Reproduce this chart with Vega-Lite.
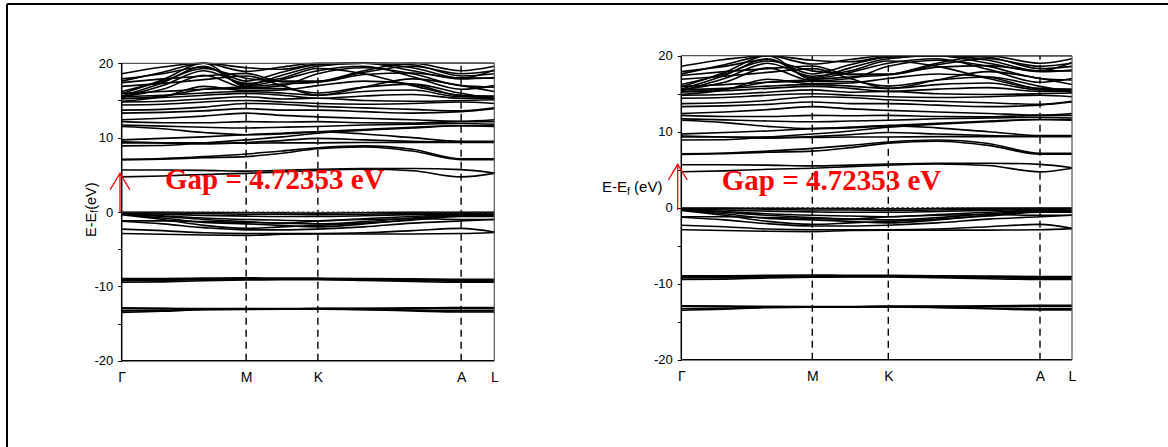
{
"$schema":"https://vega.github.io/schema/vega-lite/v6.json",
"width":1161,"height":443,
"autosize":{"type":"none"},
"padding":{"left":7,"top":4,"right":0,"bottom":0},
"background":"white",
"config":{"view":{"stroke":null}},
"datasets":{
"bands":[
{"b":"v1","k":0,"e":-0.05},{"b":"v1","k":0.11,"e":-0.05},{"b":"v1","k":0.22,"e":-0.08},{"b":"v1","k":0.334,"e":-0.1},{"b":"v1","k":0.43,"e":-0.12},{"b":"v1","k":0.5265,"e":-0.15},{"b":"v1","k":0.65,"e":-0.1},{"b":"v1","k":0.78,"e":-0.05},{"b":"v1","k":0.911,"e":-0.05},{"b":"v1","k":1,"e":-0.05},
{"b":"v2","k":0,"e":-0.1},{"b":"v2","k":0.11,"e":-0.12},{"b":"v2","k":0.22,"e":-0.2},{"b":"v2","k":0.334,"e":-0.3},{"b":"v2","k":0.43,"e":-0.3},{"b":"v2","k":0.5265,"e":-0.35},{"b":"v2","k":0.65,"e":-0.3},{"b":"v2","k":0.78,"e":-0.2},{"b":"v2","k":0.911,"e":-0.12},{"b":"v2","k":1,"e":-0.12},
{"b":"v3","k":0,"e":-0.15},{"b":"v3","k":0.11,"e":-0.3},{"b":"v3","k":0.22,"e":-0.45},{"b":"v3","k":0.334,"e":-0.55},{"b":"v3","k":0.43,"e":-0.6},{"b":"v3","k":0.5265,"e":-0.6},{"b":"v3","k":0.65,"e":-0.5},{"b":"v3","k":0.78,"e":-0.35},{"b":"v3","k":0.911,"e":-0.25},{"b":"v3","k":1,"e":-0.3},
{"b":"v4","k":0,"e":-0.2},{"b":"v4","k":0.11,"e":-0.5},{"b":"v4","k":0.22,"e":-0.8},{"b":"v4","k":0.334,"e":-1.0},{"b":"v4","k":0.43,"e":-1.1},{"b":"v4","k":0.5265,"e":-1.2},{"b":"v4","k":0.65,"e":-0.9},{"b":"v4","k":0.78,"e":-0.6},{"b":"v4","k":0.911,"e":-0.35},{"b":"v4","k":1,"e":-0.4},
{"b":"v5","k":0,"e":-0.25},{"b":"v5","k":0.11,"e":-0.6},{"b":"v5","k":0.22,"e":-1.0},{"b":"v5","k":0.334,"e":-1.3},{"b":"v5","k":0.43,"e":-1.5},{"b":"v5","k":0.5265,"e":-1.6},{"b":"v5","k":0.65,"e":-1.3},{"b":"v5","k":0.78,"e":-0.8},{"b":"v5","k":0.911,"e":-0.45},{"b":"v5","k":1,"e":-0.45},
{"b":"v6","k":0,"e":-0.3},{"b":"v6","k":0.11,"e":-0.8},{"b":"v6","k":0.22,"e":-1.4},{"b":"v6","k":0.334,"e":-1.6},{"b":"v6","k":0.43,"e":-1.8},{"b":"v6","k":0.5265,"e":-2.0},{"b":"v6","k":0.65,"e":-1.6},{"b":"v6","k":0.78,"e":-1.0},{"b":"v6","k":0.911,"e":-0.5},{"b":"v6","k":1,"e":-0.5},
{"b":"v7","k":0,"e":-0.35},{"b":"v7","k":0.11,"e":-1.0},{"b":"v7","k":0.22,"e":-1.8},{"b":"v7","k":0.334,"e":-2.2},{"b":"v7","k":0.43,"e":-2.0},{"b":"v7","k":0.5265,"e":-1.8},{"b":"v7","k":0.65,"e":-1.5},{"b":"v7","k":0.78,"e":-1.1},{"b":"v7","k":0.911,"e":-0.6},{"b":"v7","k":1,"e":-0.6},
{"b":"v8","k":0,"e":-1.2},{"b":"v8","k":0.11,"e":-1.2},{"b":"v8","k":0.22,"e":-1.3},{"b":"v8","k":0.334,"e":-1.4},{"b":"v8","k":0.43,"e":-1.5},{"b":"v8","k":0.5265,"e":-1.2},{"b":"v8","k":0.65,"e":-1.0},{"b":"v8","k":0.78,"e":-0.9},{"b":"v8","k":0.911,"e":-1.0},{"b":"v8","k":1,"e":-1.0},
{"b":"v9","k":0,"e":-1.25},{"b":"v9","k":0.11,"e":-1.6},{"b":"v9","k":0.22,"e":-2.1},{"b":"v9","k":0.334,"e":-2.4},{"b":"v9","k":0.43,"e":-2.4},{"b":"v9","k":0.5265,"e":-2.3},{"b":"v9","k":0.65,"e":-2.0},{"b":"v9","k":0.78,"e":-1.5},{"b":"v9","k":0.911,"e":-1.2},{"b":"v9","k":1,"e":-1.0},
{"b":"v10","k":0,"e":-2.3},{"b":"v10","k":0.11,"e":-2.5},{"b":"v10","k":0.22,"e":-2.8},{"b":"v10","k":0.334,"e":-2.9},{"b":"v10","k":0.43,"e":-2.9},{"b":"v10","k":0.5265,"e":-2.9},{"b":"v10","k":0.65,"e":-2.8},{"b":"v10","k":0.78,"e":-2.5},{"b":"v10","k":0.911,"e":-2.2},{"b":"v10","k":1,"e":-2.7},
{"b":"v11","k":0,"e":-2.9},{"b":"v11","k":0.11,"e":-3.0},{"b":"v11","k":0.22,"e":-3.1},{"b":"v11","k":0.334,"e":-3.15},{"b":"v11","k":0.43,"e":-3.0},{"b":"v11","k":0.5265,"e":-2.95},{"b":"v11","k":0.65,"e":-2.95},{"b":"v11","k":0.78,"e":-2.95},{"b":"v11","k":0.911,"e":-2.9},{"b":"v11","k":1,"e":-2.75},
{"b":"s1","k":0,"e":-8.95},{"b":"s1","k":0.11,"e":-8.95},{"b":"s1","k":0.22,"e":-8.9},{"b":"s1","k":0.334,"e":-8.85},{"b":"s1","k":0.43,"e":-8.9},{"b":"s1","k":0.5265,"e":-8.9},{"b":"s1","k":0.65,"e":-8.95},{"b":"s1","k":0.78,"e":-9.0},{"b":"s1","k":0.911,"e":-9.05},{"b":"s1","k":1,"e":-9.05},
{"b":"s2","k":0,"e":-9.1},{"b":"s2","k":0.11,"e":-9.1},{"b":"s2","k":0.22,"e":-9.05},{"b":"s2","k":0.334,"e":-9.0},{"b":"s2","k":0.43,"e":-9.0},{"b":"s2","k":0.5265,"e":-9.0},{"b":"s2","k":0.65,"e":-9.05},{"b":"s2","k":0.78,"e":-9.1},{"b":"s2","k":0.911,"e":-9.2},{"b":"s2","k":1,"e":-9.2},
{"b":"s3","k":0,"e":-9.25},{"b":"s3","k":0.11,"e":-9.2},{"b":"s3","k":0.22,"e":-9.1},{"b":"s3","k":0.334,"e":-9.05},{"b":"s3","k":0.43,"e":-9.05},{"b":"s3","k":0.5265,"e":-9.05},{"b":"s3","k":0.65,"e":-9.1},{"b":"s3","k":0.78,"e":-9.2},{"b":"s3","k":0.911,"e":-9.3},{"b":"s3","k":1,"e":-9.3},
{"b":"s4","k":0,"e":-9.45},{"b":"s4","k":0.11,"e":-9.4},{"b":"s4","k":0.22,"e":-9.25},{"b":"s4","k":0.334,"e":-9.15},{"b":"s4","k":0.43,"e":-9.1},{"b":"s4","k":0.5265,"e":-9.1},{"b":"s4","k":0.65,"e":-9.2},{"b":"s4","k":0.78,"e":-9.35},{"b":"s4","k":0.911,"e":-9.45},{"b":"s4","k":1,"e":-9.45},
{"b":"d1","k":0,"e":-12.9},{"b":"d1","k":0.11,"e":-12.95},{"b":"d1","k":0.22,"e":-13.0},{"b":"d1","k":0.334,"e":-13.0},{"b":"d1","k":0.43,"e":-13.0},{"b":"d1","k":0.5265,"e":-12.95},{"b":"d1","k":0.65,"e":-12.95},{"b":"d1","k":0.78,"e":-12.9},{"b":"d1","k":0.911,"e":-12.85},{"b":"d1","k":1,"e":-12.85},
{"b":"d2","k":0,"e":-13.0},{"b":"d2","k":0.11,"e":-13.0},{"b":"d2","k":0.22,"e":-13.02},{"b":"d2","k":0.334,"e":-13.05},{"b":"d2","k":0.43,"e":-13.03},{"b":"d2","k":0.5265,"e":-13.0},{"b":"d2","k":0.65,"e":-13.0},{"b":"d2","k":0.78,"e":-13.0},{"b":"d2","k":0.911,"e":-13.0},{"b":"d2","k":1,"e":-13.0},
{"b":"d3","k":0,"e":-13.3},{"b":"d3","k":0.11,"e":-13.2},{"b":"d3","k":0.22,"e":-13.1},{"b":"d3","k":0.334,"e":-13.08},{"b":"d3","k":0.43,"e":-13.06},{"b":"d3","k":0.5265,"e":-13.05},{"b":"d3","k":0.65,"e":-13.1},{"b":"d3","k":0.78,"e":-13.2},{"b":"d3","k":0.911,"e":-13.3},{"b":"d3","k":1,"e":-13.3},
{"b":"d4","k":0,"e":-13.5},{"b":"d4","k":0.11,"e":-13.35},{"b":"d4","k":0.22,"e":-13.15},{"b":"d4","k":0.334,"e":-13.1},{"b":"d4","k":0.43,"e":-13.08},{"b":"d4","k":0.5265,"e":-13.07},{"b":"d4","k":0.65,"e":-13.15},{"b":"d4","k":0.78,"e":-13.3},{"b":"d4","k":0.911,"e":-13.45},{"b":"d4","k":1,"e":-13.45},
{"b":"c1","k":0,"e":4.72},{"b":"c1","k":0.11,"e":4.85},{"b":"c1","k":0.22,"e":5.05},{"b":"c1","k":0.334,"e":5.2},{"b":"c1","k":0.43,"e":5.4},{"b":"c1","k":0.5265,"e":5.6},{"b":"c1","k":0.65,"e":5.75},{"b":"c1","k":0.78,"e":5.55},{"b":"c1","k":0.911,"e":4.72},{"b":"c1","k":1,"e":5.2},
{"b":"c2","k":0,"e":5.65},{"b":"c2","k":0.11,"e":5.65},{"b":"c2","k":0.22,"e":5.6},{"b":"c2","k":0.334,"e":5.5},{"b":"c2","k":0.43,"e":5.6},{"b":"c2","k":0.5265,"e":5.75},{"b":"c2","k":0.65,"e":5.85},{"b":"c2","k":0.78,"e":5.85},{"b":"c2","k":0.911,"e":5.7},{"b":"c2","k":1,"e":5.25},
{"b":"c3","k":0,"e":7.0},{"b":"c3","k":0.11,"e":7.1},{"b":"c3","k":0.22,"e":7.3},{"b":"c3","k":0.334,"e":7.45},{"b":"c3","k":0.43,"e":7.9},{"b":"c3","k":0.5265,"e":8.5},{"b":"c3","k":0.65,"e":8.75},{"b":"c3","k":0.78,"e":8.2},{"b":"c3","k":0.911,"e":7.05},{"b":"c3","k":1,"e":7.05},
{"b":"c4","k":0,"e":7.1},{"b":"c4","k":0.11,"e":7.2},{"b":"c4","k":0.22,"e":7.45},{"b":"c4","k":0.334,"e":7.8},{"b":"c4","k":0.43,"e":8.2},{"b":"c4","k":0.5265,"e":8.65},{"b":"c4","k":0.65,"e":8.9},{"b":"c4","k":0.78,"e":8.45},{"b":"c4","k":0.911,"e":7.15},{"b":"c4","k":1,"e":7.15},
{"b":"c5","k":0,"e":9.3},{"b":"c5","k":0.11,"e":9.3},{"b":"c5","k":0.22,"e":9.3},{"b":"c5","k":0.334,"e":9.25},{"b":"c5","k":0.43,"e":9.3},{"b":"c5","k":0.5265,"e":9.3},{"b":"c5","k":0.65,"e":9.35},{"b":"c5","k":0.78,"e":9.35},{"b":"c5","k":0.911,"e":9.35},{"b":"c5","k":1,"e":9.35},
{"b":"c6","k":0,"e":9.45},{"b":"c6","k":0.11,"e":9.3},{"b":"c6","k":0.22,"e":9.15},{"b":"c6","k":0.334,"e":9.35},{"b":"c6","k":0.43,"e":9.6},{"b":"c6","k":0.5265,"e":9.9},{"b":"c6","k":0.65,"e":9.7},{"b":"c6","k":0.78,"e":9.5},{"b":"c6","k":0.911,"e":9.4},{"b":"c6","k":1,"e":9.45},
{"b":"c7","k":0,"e":9.7},{"b":"c7","k":0.11,"e":9.9},{"b":"c7","k":0.22,"e":10.1},{"b":"c7","k":0.334,"e":10.4},{"b":"c7","k":0.43,"e":10.6},{"b":"c7","k":0.5265,"e":10.8},{"b":"c7","k":0.65,"e":10.5},{"b":"c7","k":0.78,"e":10.0},{"b":"c7","k":0.911,"e":9.5},{"b":"c7","k":1,"e":9.5},
{"b":"c8","k":0,"e":8.9},{"b":"c8","k":0.11,"e":8.95},{"b":"c8","k":0.22,"e":9.3},{"b":"c8","k":0.334,"e":9.7},{"b":"c8","k":0.43,"e":10.1},{"b":"c8","k":0.5265,"e":10.6},{"b":"c8","k":0.65,"e":11.0},{"b":"c8","k":0.78,"e":11.3},{"b":"c8","k":0.911,"e":11.6},{"b":"c8","k":1,"e":11.5},
{"b":"c9","k":0,"e":11.5},{"b":"c9","k":0.11,"e":11.2},{"b":"c9","k":0.22,"e":10.7},{"b":"c9","k":0.334,"e":10.4},{"b":"c9","k":0.43,"e":10.5},{"b":"c9","k":0.5265,"e":10.8},{"b":"c9","k":0.65,"e":11.1},{"b":"c9","k":0.78,"e":11.4},{"b":"c9","k":0.911,"e":11.6},{"b":"c9","k":1,"e":11.6},
{"b":"c10","k":0,"e":11.7},{"b":"c10","k":0.11,"e":11.55},{"b":"c10","k":0.22,"e":11.4},{"b":"c10","k":0.334,"e":11.3},{"b":"c10","k":0.43,"e":11.4},{"b":"c10","k":0.5265,"e":11.5},{"b":"c10","k":0.65,"e":11.7},{"b":"c10","k":0.78,"e":11.8},{"b":"c10","k":0.911,"e":11.9},{"b":"c10","k":1,"e":11.8},
{"b":"c11","k":0,"e":12.15},{"b":"c11","k":0.11,"e":12.0},{"b":"c11","k":0.22,"e":12.0},{"b":"c11","k":0.334,"e":12.15},{"b":"c11","k":0.43,"e":12.1},{"b":"c11","k":0.5265,"e":12.15},{"b":"c11","k":0.65,"e":12.0},{"b":"c11","k":0.78,"e":11.95},{"b":"c11","k":0.911,"e":12.15},{"b":"c11","k":1,"e":12.15},
{"b":"c12","k":0,"e":12.4},{"b":"c12","k":0.11,"e":12.6},{"b":"c12","k":0.22,"e":12.9},{"b":"c12","k":0.334,"e":13.3},{"b":"c12","k":0.43,"e":13.0},{"b":"c12","k":0.5265,"e":12.8},{"b":"c12","k":0.65,"e":12.6},{"b":"c12","k":0.78,"e":12.4},{"b":"c12","k":0.911,"e":12.2},{"b":"c12","k":1,"e":12.4},
{"b":"c13","k":0,"e":13.3},{"b":"c13","k":0.11,"e":13.4},{"b":"c13","k":0.22,"e":13.6},{"b":"c13","k":0.334,"e":13.9},{"b":"c13","k":0.43,"e":13.7},{"b":"c13","k":0.5265,"e":13.7},{"b":"c13","k":0.65,"e":13.5},{"b":"c13","k":0.78,"e":13.3},{"b":"c13","k":0.911,"e":13.5},{"b":"c13","k":1,"e":13.9},
{"b":"c14","k":0,"e":13.7},{"b":"c14","k":0.11,"e":13.8},{"b":"c14","k":0.22,"e":14.1},{"b":"c14","k":0.334,"e":14.6},{"b":"c14","k":0.43,"e":14.5},{"b":"c14","k":0.5265,"e":14.2},{"b":"c14","k":0.65,"e":14.0},{"b":"c14","k":0.78,"e":13.8},{"b":"c14","k":0.911,"e":13.6},{"b":"c14","k":1,"e":14.0},
{"b":"c15","k":0,"e":14.4},{"b":"c15","k":0.11,"e":14.5},{"b":"c15","k":0.22,"e":14.8},{"b":"c15","k":0.334,"e":15.0},{"b":"c15","k":0.43,"e":14.8},{"b":"c15","k":0.5265,"e":14.6},{"b":"c15","k":0.65,"e":14.5},{"b":"c15","k":0.78,"e":14.6},{"b":"c15","k":0.911,"e":14.8},{"b":"c15","k":1,"e":14.6},
{"b":"c16","k":0,"e":14.8},{"b":"c16","k":0.11,"e":14.9},{"b":"c16","k":0.22,"e":15.2},{"b":"c16","k":0.334,"e":15.5},{"b":"c16","k":0.43,"e":15.2},{"b":"c16","k":0.5265,"e":15.3},{"b":"c16","k":0.65,"e":15.0},{"b":"c16","k":0.78,"e":14.9},{"b":"c16","k":0.911,"e":15.0},{"b":"c16","k":1,"e":15.1},
{"b":"c17","k":0,"e":15.3},{"b":"c17","k":0.11,"e":15.4},{"b":"c17","k":0.22,"e":15.7},{"b":"c17","k":0.334,"e":15.96},{"b":"c17","k":0.43,"e":15.7},{"b":"c17","k":0.5265,"e":15.3},{"b":"c17","k":0.65,"e":15.6},{"b":"c17","k":0.78,"e":15.8},{"b":"c17","k":0.911,"e":15.3},{"b":"c17","k":1,"e":15.3},
{"b":"c18","k":0,"e":15.5},{"b":"c18","k":0.11,"e":15.7},{"b":"c18","k":0.22,"e":16.0},{"b":"c18","k":0.334,"e":16.2},{"b":"c18","k":0.43,"e":16.0},{"b":"c18","k":0.5265,"e":15.7},{"b":"c18","k":0.65,"e":16.2},{"b":"c18","k":0.78,"e":16.4},{"b":"c18","k":0.911,"e":15.5},{"b":"c18","k":1,"e":15.5},
{"b":"c19","k":0,"e":15.96},{"b":"c19","k":0.11,"e":16.2},{"b":"c19","k":0.22,"e":16.5},{"b":"c19","k":0.334,"e":16.6},{"b":"c19","k":0.43,"e":16.6},{"b":"c19","k":0.5265,"e":16.0},{"b":"c19","k":0.65,"e":16.8},{"b":"c19","k":0.78,"e":17.2},{"b":"c19","k":0.911,"e":15.96},{"b":"c19","k":1,"e":15.2},
{"b":"c20","k":0,"e":15.4},{"b":"c20","k":0.11,"e":17.0},{"b":"c20","k":0.22,"e":19.0},{"b":"c20","k":0.334,"e":17.3},{"b":"c20","k":0.43,"e":18.0},{"b":"c20","k":0.5265,"e":19.3},{"b":"c20","k":0.65,"e":18.6},{"b":"c20","k":0.78,"e":17.0},{"b":"c20","k":0.911,"e":15.7},{"b":"c20","k":1,"e":15.6},
{"b":"c21","k":0,"e":16.9},{"b":"c21","k":0.11,"e":17.3},{"b":"c21","k":0.22,"e":17.8},{"b":"c21","k":0.334,"e":18.3},{"b":"c21","k":0.43,"e":17.0},{"b":"c21","k":0.5265,"e":15.7},{"b":"c21","k":0.65,"e":16.8},{"b":"c21","k":0.78,"e":17.9},{"b":"c21","k":0.911,"e":17.0},{"b":"c21","k":1,"e":16.2},
{"b":"c22","k":0,"e":17.4},{"b":"c22","k":0.11,"e":17.9},{"b":"c22","k":0.22,"e":18.3},{"b":"c22","k":0.334,"e":18.65},{"b":"c22","k":0.43,"e":17.5},{"b":"c22","k":0.5265,"e":17.5},{"b":"c22","k":0.65,"e":18.5},{"b":"c22","k":0.78,"e":18.7},{"b":"c22","k":0.911,"e":18.0},{"b":"c22","k":1,"e":18.0},
{"b":"c23","k":0,"e":17.9},{"b":"c23","k":0.11,"e":18.6},{"b":"c23","k":0.22,"e":19.5},{"b":"c23","k":0.334,"e":17.6},{"b":"c23","k":0.43,"e":18.8},{"b":"c23","k":0.5265,"e":19.8},{"b":"c23","k":0.65,"e":20.4},{"b":"c23","k":0.78,"e":19.4},{"b":"c23","k":0.911,"e":18.0},{"b":"c23","k":1,"e":19.1},
{"b":"c24","k":0,"e":15.6},{"b":"c24","k":0.11,"e":17.4},{"b":"c24","k":0.22,"e":19.6},{"b":"c24","k":0.334,"e":17.1},{"b":"c24","k":0.43,"e":18.4},{"b":"c24","k":0.5265,"e":19.6},{"b":"c24","k":0.65,"e":20.6},{"b":"c24","k":0.78,"e":19.8},{"b":"c24","k":0.911,"e":18.3},{"b":"c24","k":1,"e":18.6},
{"b":"c25","k":0,"e":15.9},{"b":"c25","k":0.11,"e":17.8},{"b":"c25","k":0.22,"e":20.4},{"b":"c25","k":0.334,"e":16.9},{"b":"c25","k":0.43,"e":17.2},{"b":"c25","k":0.5265,"e":17.5},{"b":"c25","k":0.65,"e":19.0},{"b":"c25","k":0.78,"e":20.3},{"b":"c25","k":0.911,"e":20.5},{"b":"c25","k":1,"e":20.5},
{"b":"c26","k":0,"e":15.2},{"b":"c26","k":0.11,"e":15.6},{"b":"c26","k":0.22,"e":16.5},{"b":"c26","k":0.334,"e":16.9},{"b":"c26","k":0.43,"e":17.8},{"b":"c26","k":0.5265,"e":19.0},{"b":"c26","k":0.65,"e":19.6},{"b":"c26","k":0.78,"e":18.2},{"b":"c26","k":0.911,"e":16.5},{"b":"c26","k":1,"e":17.0},
{"b":"c27","k":0,"e":18.6},{"b":"c27","k":0.11,"e":19.5},{"b":"c27","k":0.22,"e":21.0},{"b":"c27","k":0.334,"e":19.4},{"b":"c27","k":0.43,"e":19.2},{"b":"c27","k":0.5265,"e":19.9},{"b":"c27","k":0.65,"e":21.0},{"b":"c27","k":0.78,"e":20.6},{"b":"c27","k":0.911,"e":19.0},{"b":"c27","k":1,"e":19.6},
{"b":"c28","k":0,"e":16.2},{"b":"c28","k":0.11,"e":17.6},{"b":"c28","k":0.22,"e":19.3},{"b":"c28","k":0.334,"e":18.0},{"b":"c28","k":0.43,"e":17.6},{"b":"c28","k":0.5265,"e":17.6},{"b":"c28","k":0.65,"e":18.8},{"b":"c28","k":0.78,"e":19.6},{"b":"c28","k":0.911,"e":18.6},{"b":"c28","k":1,"e":19.0},
{"b":"c29","k":0,"e":15.5},{"b":"c29","k":0.11,"e":16.5},{"b":"c29","k":0.22,"e":18.4},{"b":"c29","k":0.334,"e":16.7},{"b":"c29","k":0.43,"e":17.0},{"b":"c29","k":0.5265,"e":18.6},{"b":"c29","k":0.65,"e":19.4},{"b":"c29","k":0.78,"e":18.6},{"b":"c29","k":0.911,"e":17.0},{"b":"c29","k":1,"e":16.8},
{"b":"c30","k":0,"e":17.6},{"b":"c30","k":0.11,"e":18.8},{"b":"c30","k":0.22,"e":20.6},{"b":"c30","k":0.334,"e":18.9},{"b":"c30","k":0.43,"e":19.5},{"b":"c30","k":0.5265,"e":20.2},{"b":"c30","k":0.65,"e":20.2},{"b":"c30","k":0.78,"e":19.0},{"b":"c30","k":0.911,"e":17.9},{"b":"c30","k":1,"e":18.1},
{"b":"c31","k":0,"e":14.9},{"b":"c31","k":0.11,"e":15.5},{"b":"c31","k":0.22,"e":16.9},{"b":"c31","k":0.334,"e":16.3},{"b":"c31","k":0.43,"e":16.4},{"b":"c31","k":0.5265,"e":17.0},{"b":"c31","k":0.65,"e":17.6},{"b":"c31","k":0.78,"e":17.2},{"b":"c31","k":0.911,"e":15.6},{"b":"c31","k":1,"e":15.4}
],
"kpts":[{"k":0.334},{"k":0.5265},{"k":0.911}],
"arrowL":[{"p":"s","i":0,"k":-0.0046,"e":0},{"p":"s","i":1,"k":-0.0046,"e":5.2},{"p":"h","i":0,"k":-0.0314,"e":2.96},{"p":"h","i":1,"k":-0.0046,"e":5.2},{"p":"h","i":2,"k":0.0223,"e":2.96}],
"arrowR":[{"p":"s","i":0,"k":-0.0092,"e":-0.3},{"p":"s","i":1,"k":-0.0092,"e":5.71},{"p":"h","i":0,"k":-0.0331,"e":3.64},{"p":"h","i":1,"k":-0.0092,"e":5.71},{"p":"h","i":2,"k":0.0153,"e":3.64}]
},
"layer":[
{
"data":{"values":[{"x0":0,"x1":1,"y0":1,"y1":1},{"x0":0,"x1":0,"y0":0,"y1":1}]},
"mark":{"type":"rule","color":"black","strokeWidth":2},
"encoding":{
"x":{"field":"x0","type":"quantitative","scale":{"domain":[0,1]},"axis":null},
"x2":{"field":"x1"},
"y":{"field":"y0","type":"quantitative","scale":{"domain":[0,1]},"axis":null},
"y2":{"field":"y1"}
}
},
{
"layer":[
{
"data":{"name":"bands"},
"mark":{"type":"line","interpolate":"monotone","color":"black","strokeWidth":1.6},
"encoding":{
"x":{"field":"k","type":"quantitative","scale":{"domain":[0,1],"range":[114.7,487.3]},
"axis":{"orient":"bottom","offset":-86.3,"values":[0,0.334,0.5265,0.911,1],"labelExpr":"datum.value == 0 ? 'Γ' : datum.value < 0.4 ? 'M' : datum.value < 0.6 ? 'K' : datum.value < 0.95 ? 'A' : 'L'","ticks":false,"tickSize":0,"domain":false,"grid":false,"labelPadding":10,"labelFont":"Liberation Sans","labelFontSize":14,"labelColor":"black","labelFlush":false,"labelOverlap":false,"labelBound":false,"title":null}},
"y":{"field":"e","type":"quantitative","scale":{"domain":[-20,20],"range":[356.7,59.3],"clamp":true},
"axis":{"orient":"left","offset":-114.7,"values":[-20,-15,-10,-5,0,5,10,15,20],"labelExpr":"datum.value % 10 == 0 ? toString(datum.value) : ''","tickSize":4,"tickColor":"black","tickWidth":1,"domain":false,"grid":false,"labelPadding":5,"labelFont":"Liberation Sans","labelFontSize":13,"labelColor":"black","labelOverlap":false,"labelBound":false,"title":null}},
"detail":{"field":"b","type":"nominal"}
}
},
{
"data":{"name":"kpts"},
"mark":{"type":"rule","strokeDash":[7,5],"color":"black","strokeWidth":1.4},
"encoding":{"x":{"field":"k","type":"quantitative"},"y":{"datum":-20,"type":"quantitative"},"y2":{"datum":20}}
},
{
"data":{"values":[{}]},
"mark":{"type":"rule","strokeDash":[3,2],"color":"#333333","strokeWidth":1},
"encoding":{"x":{"datum":0,"type":"quantitative"},"x2":{"datum":1},"y":{"datum":0,"type":"quantitative"}}
},
{
"data":{"values":[{}]},
"mark":{"type":"rule","color":"#555555","strokeWidth":1.2},
"encoding":{"x":{"datum":0,"type":"quantitative"},"x2":{"datum":1},"y":{"datum":20,"type":"quantitative"}}
},
{
"data":{"values":[{}]},
"mark":{"type":"rule","color":"black","strokeWidth":1.5},
"encoding":{"x":{"datum":0,"type":"quantitative"},"x2":{"datum":1},"y":{"datum":-20,"type":"quantitative"}}
},
{
"data":{"values":[{}]},
"mark":{"type":"rule","color":"black","strokeWidth":1.5},
"encoding":{"x":{"datum":0,"type":"quantitative"},"y":{"datum":-20,"type":"quantitative"},"y2":{"datum":20}}
},
{
"data":{"values":[{}]},
"mark":{"type":"rule","color":"#555555","strokeWidth":1.2},
"encoding":{"x":{"datum":1,"type":"quantitative"},"y":{"datum":-20,"type":"quantitative"},"y2":{"datum":20}}
},
{
"data":{"name":"arrowL"},
"mark":{"type":"line","color":"#ff0000","strokeWidth":1.3},
"encoding":{"x":{"field":"k","type":"quantitative"},"y":{"field":"e","type":"quantitative"},"detail":{"field":"p","type":"nominal"},"order":{"field":"i","type":"quantitative"}}
},
{
"data":{"values":[{"k":0.1162,"e":3.05,"t":"Gap = 4.72353 eV"}]},
"mark":{"type":"text","font":"Liberation Serif","fontWeight":"bold","fontSize":29,"color":"#ff0000","align":"left","baseline":"alphabetic"},
"encoding":{"x":{"field":"k","type":"quantitative"},"y":{"field":"e","type":"quantitative"},"text":{"field":"t"}}
},
{
"data":{"values":[{"k":-0.0805,"e":-3.36,"t":"E-E"},{"k":-0.0805,"e":0.3,"t":"(eV)"}]},
"mark":{"type":"text","font":"Liberation Sans","fontSize":14.5,"color":"black","align":"left","baseline":"middle","angle":270},
"encoding":{"x":{"field":"k","type":"quantitative"},"y":{"field":"e","type":"quantitative"},"text":{"field":"t"}}
},
{
"data":{"values":[{"k":-0.0725,"e":-0.1,"t":"f"}]},
"mark":{"type":"text","font":"Liberation Sans","fontSize":10,"color":"black","align":"left","baseline":"middle","angle":270},
"encoding":{"x":{"field":"k","type":"quantitative"},"y":{"field":"e","type":"quantitative"},"text":{"field":"t"}}
}
]
},
{
"layer":[
{
"data":{"name":"bands"},
"mark":{"type":"line","interpolate":"monotone","color":"black","strokeWidth":1.6},
"encoding":{
"x":{"field":"k","type":"quantitative","scale":{"domain":[0,0.334,0.5265,0.911,1],"range":[674.3,805.3,881.3,1033,1065]},
"axis":{"orient":"bottom","offset":-87.3,"values":[0,0.334,0.5265,0.911,1],"labelExpr":"datum.value == 0 ? 'Γ' : datum.value < 0.4 ? 'M' : datum.value < 0.6 ? 'K' : datum.value < 0.95 ? 'A' : 'L'","ticks":false,"tickSize":0,"domain":false,"grid":false,"labelPadding":10,"labelFont":"Liberation Sans","labelFontSize":14,"labelColor":"black","labelFlush":false,"labelOverlap":false,"labelBound":false,"title":null}},
"y":{"field":"e","type":"quantitative","scale":{"domain":[-20,20],"range":[355.7,51.7],"clamp":true},
"axis":{"orient":"left","offset":-674.3,"values":[-20,-15,-10,-5,0,5,10,15,20],"labelExpr":"datum.value % 10 == 0 ? toString(datum.value) : ''","tickSize":4,"tickColor":"black","tickWidth":1,"domain":false,"grid":false,"labelPadding":5,"labelFont":"Liberation Sans","labelFontSize":13,"labelColor":"black","labelOverlap":false,"labelBound":false,"title":null}},
"detail":{"field":"b","type":"nominal"}
}
},
{
"data":{"name":"kpts"},
"mark":{"type":"rule","strokeDash":[7,5],"color":"black","strokeWidth":1.4},
"encoding":{"x":{"field":"k","type":"quantitative"},"y":{"datum":-20,"type":"quantitative"},"y2":{"datum":20}}
},
{
"data":{"values":[{}]},
"mark":{"type":"rule","strokeDash":[3,2],"color":"#333333","strokeWidth":1},
"encoding":{"x":{"datum":0,"type":"quantitative"},"x2":{"datum":1},"y":{"datum":0,"type":"quantitative"}}
},
{
"data":{"values":[{}]},
"mark":{"type":"rule","color":"#555555","strokeWidth":1.2},
"encoding":{"x":{"datum":0,"type":"quantitative"},"x2":{"datum":1},"y":{"datum":20,"type":"quantitative"}}
},
{
"data":{"values":[{}]},
"mark":{"type":"rule","color":"black","strokeWidth":1.5},
"encoding":{"x":{"datum":0,"type":"quantitative"},"x2":{"datum":1},"y":{"datum":-20,"type":"quantitative"}}
},
{
"data":{"values":[{}]},
"mark":{"type":"rule","color":"black","strokeWidth":1.5},
"encoding":{"x":{"datum":0,"type":"quantitative"},"y":{"datum":-20,"type":"quantitative"},"y2":{"datum":20}}
},
{
"data":{"values":[{}]},
"mark":{"type":"rule","color":"#555555","strokeWidth":1.2},
"encoding":{"x":{"datum":1,"type":"quantitative"},"y":{"datum":-20,"type":"quantitative"},"y2":{"datum":20}}
},
{
"data":{"name":"arrowR"},
"mark":{"type":"line","color":"#ff0000","strokeWidth":1.3},
"encoding":{"x":{"field":"k","type":"quantitative"},"y":{"field":"e","type":"quantitative"},"detail":{"field":"p","type":"nominal"},"order":{"field":"i","type":"quantitative"}}
},
{
"data":{"values":[{"k":0.103,"e":2.33,"t":"Gap = 4.72353 eV"}]},
"mark":{"type":"text","font":"Liberation Serif","fontWeight":"bold","fontSize":29,"color":"#ff0000","align":"left","baseline":"alphabetic"},
"encoding":{"x":{"field":"k","type":"quantitative"},"y":{"field":"e","type":"quantitative"},"text":{"field":"t"}}
},
{
"data":{"values":[{"k":-0.2022,"e":2.1,"t":"E-E"},{"k":-0.1205,"e":2.1,"t":"(eV)"}]},
"mark":{"type":"text","font":"Liberation Sans","fontSize":15,"color":"black","align":"left","baseline":"alphabetic"},
"encoding":{"x":{"field":"k","type":"quantitative"},"y":{"field":"e","type":"quantitative"},"text":{"field":"t"}}
},
{
"data":{"values":[{"k":-0.1385,"e":1.71,"t":"f"}]},
"mark":{"type":"text","font":"Liberation Sans","fontSize":10.5,"color":"black","align":"left","baseline":"alphabetic"},
"encoding":{"x":{"field":"k","type":"quantitative"},"y":{"field":"e","type":"quantitative"},"text":{"field":"t"}}
}
]
}
],
"resolve":{"scale":{"x":"independent","y":"independent"},"axis":{"x":"independent","y":"independent"}}
}
